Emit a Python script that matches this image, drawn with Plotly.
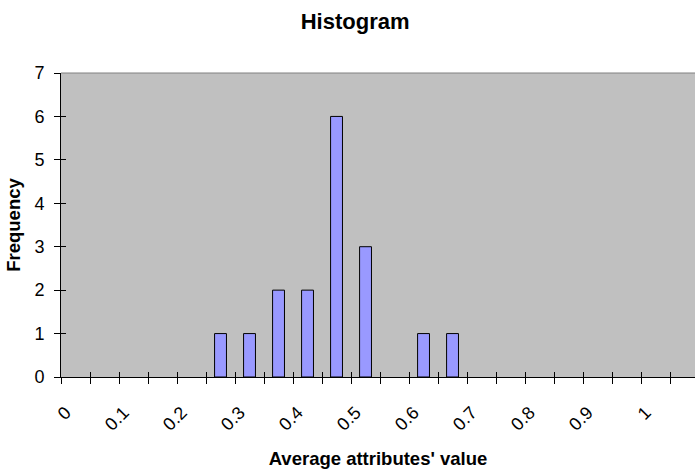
import plotly.graph_objects as go

# Histogram bins (upper bin values) and frequencies
bins = ["0", "0.05", "0.1", "0.15", "0.2", "0.25", "0.3", "0.35", "0.4", "0.45", "0.5",
        "0.55", "0.6", "0.65", "0.7", "0.75", "0.8", "0.85", "0.9", "0.95", "1", "More"]
frequency = [0, 0, 0, 0, 0, 1, 1, 2, 2, 6, 3, 0, 1, 1, 0, 0, 0, 0, 0, 0, 0, 0]
tick_labels = ["0", "0.1", "0.2", "0.3", "0.4", "0.5", "0.6", "0.7", "0.8", "0.9", "1"]
y_ticks = [0, 1, 2, 3, 4, 5, 6, 7]

idx = list(range(len(bins)))
label_shift = -0.34  # rotated labels end slightly left of category centre
label_pos = [bins.index(t) + label_shift for t in tick_labels]
boundaries = [i - 0.5 for i in range(len(bins) + 1)]

FONT = "Liberation Sans, Arial, sans-serif"
CLEAR = "rgba(0,0,0,0)"

fig = go.Figure()
fig.add_trace(go.Bar(
    x=idx, y=frequency,
    marker=dict(color="#9999FF",
                line=dict(color="black", width=[1 if v > 0 else 0 for v in frequency])),
    hovertext=bins,
))

xr = [-0.5, 21.36]
yr = [0, 7]
fig.update_layout(
    width=695, height=470,
    margin=dict(l=61, r=0, t=73, b=93),
    paper_bgcolor="white",
    plot_bgcolor="#C0C0C0",
    bargap=0.59,
    showlegend=False,
    font=dict(family=FONT, color="black", size=18),
    title=dict(text="<b>Histogram</b>", x=0.511, xref="container", xanchor="center",
               y=0.954, yref="container", yanchor="middle",
               font=dict(family=FONT, size=22, color="black")),
    xaxis=dict(
        range=xr, tickmode="array", tickvals=label_pos, ticktext=tick_labels,
        tickangle=-45, ticks="outside", ticklen=17, tickcolor=CLEAR,
        showgrid=False, zeroline=False,
        showline=True, linecolor="black", linewidth=1,
        tickfont=dict(family=FONT, size=18, color="black"),
        minor=dict(ticks="outside", tickmode="array", tickvals=boundaries,
                   ticklen=6, tickcolor="black", tickwidth=1, showgrid=False),
        title=dict(text="<b>Average attributes' value</b>", standoff=18,
                   font=dict(family=FONT, size=18.5, color="black")),
    ),
    xaxis2=dict(
        range=xr, overlaying="x", anchor="y", side="bottom",
        tickmode="array", tickvals=boundaries, ticks="inside", ticklen=5,
        tickcolor="black", showticklabels=False, showgrid=False, zeroline=False,
        showline=False,
    ),
    yaxis=dict(
        range=yr, tickmode="array", tickvals=y_ticks, ticktext=[str(v) for v in y_ticks],
        ticks="outside", ticklen=12, tickcolor=CLEAR,
        showgrid=False, zeroline=False,
        showline=True, linecolor="black", linewidth=1,
        tickfont=dict(family=FONT, size=18, color="black"),
        title=dict(text="<b>Frequency</b>", standoff=8,
                   font=dict(family=FONT, size=18.5, color="black")),
    ),
    yaxis2=dict(
        range=yr, overlaying="y", anchor="x", side="left",
        tickmode="array", tickvals=y_ticks, ticks="inside", ticklen=5,
        tickcolor="black", showticklabels=False, showgrid=False, zeroline=False,
        showline=False,
    ),
    yaxis3=dict(
        range=yr, overlaying="y", anchor="x", side="left",
        tickmode="array", tickvals=y_ticks, ticks="outside", ticklen=6,
        tickcolor="black", showticklabels=False, showgrid=False, zeroline=False,
        showline=False,
    ),
    shapes=[dict(type="line", xref="paper", yref="paper", x0=0, x1=1, y0=1, y1=1,
                 line=dict(color="#808080", width=1))],
)

# invisible helper traces so the overlay axes (extra tick halves) are drawn
fig.add_trace(go.Scatter(x=[idx[0]], y=[0], xaxis="x2", yaxis="y2",
                         mode="markers", marker=dict(opacity=0), hoverinfo="skip"))
fig.add_trace(go.Scatter(x=[idx[0]], y=[0], xaxis="x", yaxis="y3",
                         mode="markers", marker=dict(opacity=0), hoverinfo="skip"))

fig.write_html("out.html")
